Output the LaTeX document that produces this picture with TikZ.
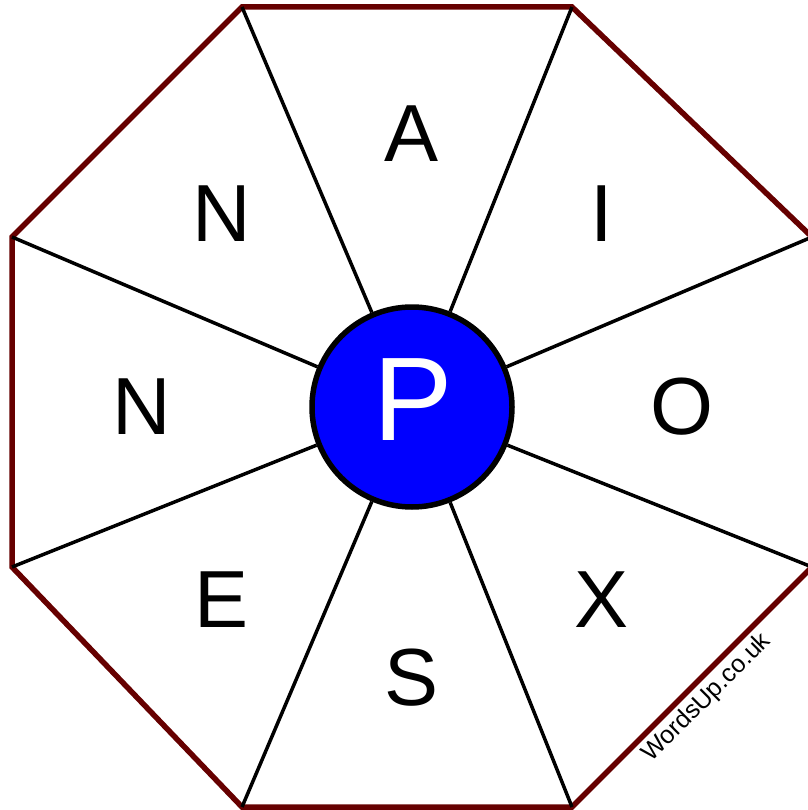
\documentclass[tikz,border=0pt]{standalone}
\usepackage{fontspec}
\setmainfont{Liberation Sans}
\usepackage{xcolor}
\usepackage{tikz}
\usetikzlibrary{positioning}
\definecolor{rimred}{HTML}{660000}
\definecolor{hubblue}{HTML}{0000FF}

\begin{document}
\begin{tikzpicture}[
  x=1pt, y=-1pt,
  rim/.style={draw=rimred, line width=5.5pt, line join=miter},
  spoke/.style={draw=black, line width=3.5pt},
  hub/.style={circle, draw=black, fill=hubblue, line width=5.5pt,
    minimum size=200pt, inner sep=0pt},
  letter/.style={inner sep=0pt, font=\fontsize{81}{81}\selectfont},
  centreletter/.style={inner sep=0pt, text=white, font=\fontsize{119}{119}\selectfont},
  credit/.style={inner sep=0pt, rotate=45, font=\fontsize{25}{25}\selectfont},
]
  \useasboundingbox (0,0) rectangle (807,810);

  % octagon corners
  \coordinate (ctl) at (242,7);
  \coordinate (ctr) at (572,7);
  \coordinate (crt) at (812,237);
  \coordinate (crb) at (812,567);
  \coordinate (cbr) at (572,807);
  \coordinate (cbl) at (242,807);
  \coordinate (clb) at (12,567);
  \coordinate (clt) at (12,237);

  \draw[rim] (ctl) -- (ctr) -- (crt) -- (crb) -- (cbr) -- (cbl) -- (clb) -- (clt) -- cycle;

  \node[hub] (hub) at (412,407) {};

  \foreach \c in {ctl,ctr,crt,crb,cbr,cbl,clb,clt}
    \draw[spoke] (hub) -- (\c);

  \node[centreletter] (centre) at (413,400) {P};

  % outer letters
  \node[letter] (la) at (412,134) {A};
  \node[letter] (li) at (602,214) {I};
  \node[letter] (lo) at (682,407) {O};
  \node[letter] (lx) at (602,600) {X};
  \node[letter] (ls) at (412,678) {S};
  \node[letter] (le) at (222,600) {E};
  \node[letter] (lw) at (142,407) {N};
  \node[letter] (ln) at (222,214) {N};

  \node[credit] (site) at (707,698) {WordsUp.co.uk};
\end{tikzpicture}
\end{document}
